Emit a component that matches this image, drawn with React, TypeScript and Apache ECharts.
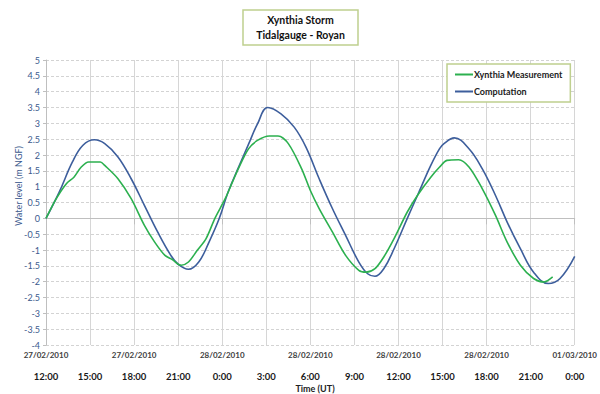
import React, { useEffect, useRef } from "react";
import * as echarts from "echarts";

// hours since 27/02/2010 12:00 UT
const dateLabels = ["27/02/2010", "27/02/2010", "28/02/2010", "28/02/2010", "28/02/2010", "28/02/2010", "01/03/2010"];
const timeLabels = ["12:00", "15:00", "18:00", "21:00", "0:00", "3:00", "6:00", "9:00", "12:00", "15:00", "18:00", "21:00", "0:00"];

const compHours = [0, 0.9, 1.8, 2.5, 3.3, 4.0, 4.9, 5.8, 6.7, 7.6, 8.5, 9.0, 9.7, 10.4, 11.1, 11.8, 12.4, 13.1, 13.8, 14.4, 15.1, 16.0, 16.9, 17.7, 18.6, 19.5, 20.4, 21.3, 21.9, 22.4, 23.0, 23.7, 24.6, 25.3, 26.2, 26.8, 27.1, 27.8, 28.8, 29.7, 30.6, 31.4, 32.3, 33.2, 34.2, 35.0, 36.0];
const compLevel = [0, 0.83, 1.78, 2.3, 2.48, 2.36, 1.94, 1.25, 0.41, -0.43, -1.17, -1.45, -1.61, -1.38, -0.75, 0, 0.83, 1.6, 2.35, 2.98, 3.5, 3.3, 2.88, 2.25, 1.25, 0.31, -0.54, -1.38, -1.75, -1.83, -1.59, -0.96, 0, 0.73, 1.67, 2.2, 2.36, 2.54, 2.2, 1.57, 0.73, -0.12, -0.96, -1.7, -2.06, -1.9, -1.2];

const measHours = [0, 0.7, 1.4, 1.9, 2.4, 2.9, 3.7, 4.0, 4.9, 5.8, 6.7, 7.4, 8.1, 8.6, 9.0, 9.2, 9.7, 10.3, 10.9, 11.5, 12.2, 12.7, 13.1, 13.8, 14.4, 15.2, 15.8, 16.5, 17.4, 18.0, 18.6, 19.5, 20.4, 21.3, 21.8, 22.4, 23.0, 23.7, 24.6, 25.3, 26.2, 26.8, 27.3, 28.1, 28.8, 29.7, 30.6, 31.4, 32.3, 33.2, 33.9, 34.5];
const measLevel = [0, 0.62, 1.1, 1.3, 1.62, 1.78, 1.78, 1.67, 1.25, 0.62, -0.22, -0.75, -1.17, -1.3, -1.45, -1.48, -1.38, -1.01, -0.64, 0, 0.62, 1.15, 1.57, 2.2, 2.46, 2.6, 2.6, 2.36, 1.57, 0.88, 0.31, -0.43, -1.17, -1.64, -1.7, -1.59, -1.22, -0.64, 0.2, 0.73, 1.3, 1.62, 1.83, 1.85, 1.62, 0.94, 0.1, -0.75, -1.48, -1.9, -2.01, -1.85];

const FONT = "Lato, 'Open Sans', sans-serif";
const GREEN = "#2cb04f";
const BLUE = "#3d5e9c";
const OLIVE = "#bfd08f";

export default function App() {
  const ref = useRef<HTMLDivElement>(null);
  useEffect(() => {
    if (!ref.current) return;
    const chart = echarts.init(ref.current, null, { renderer: "svg" });
    const comp = compHours.map((h, i) => [h, compLevel[i]]);
    const meas = measHours.map((h, i) => [h, measLevel[i]]);
    chart.setOption({
      animation: false,
      backgroundColor: "#ffffff",
      textStyle: { fontFamily: FONT },
      grid: { left: 46, right: 18, top: 60, bottom: 49 },
      legend: {
        orient: "vertical",
        left: 447,
        top: 64,
        backgroundColor: "#ffffff",
        borderColor: OLIVE,
        borderWidth: 1.5,
        padding: [6, 8, 6, 8],
        itemGap: 8,
        itemWidth: 18,
        itemHeight: 2,
        icon: "rect",
        data: ["Xynthia Measurement", "Computation"],
        textStyle: { fontSize: 9, fontWeight: "bold", color: "#222", fontFamily: FONT, padding: [0, 0, 0, -4] },
      },
      xAxis: [
        {
          type: "value",
          min: 0,
          max: 36,
          interval: 6,
          position: "bottom",
          axisLine: { show: true, lineStyle: { color: "#bfbfbf" } },
          axisTick: { show: true, length: 6, lineStyle: { color: "#bfbfbf" } },
          splitLine: { show: false },
          axisLabel: {
            margin: 6,
            fontSize: 8,
            fontWeight: "bold",
            color: "#404040",
            fontFamily: FONT,
            formatter: (v: number) => dateLabels[Math.round(v / 6)] ?? "",
          },
        },
        {
          type: "value",
          min: 0,
          max: 36,
          interval: 3,
          position: "bottom",
          axisLine: { show: false },
          axisTick: { show: false },
          splitLine: { show: true, lineStyle: { color: "#d6d6d6", width: 1 } },
          axisLabel: {
            margin: 26,
            fontSize: 9.5,
            fontWeight: "bold",
            color: "#1a1a1a",
            fontFamily: FONT,
            formatter: (v: number) => timeLabels[Math.round(v / 3)] ?? "",
          },
        },
      ],
      yAxis: {
        type: "value",
        min: -4,
        max: 5,
        interval: 0.5,
        axisLine: { show: true, lineStyle: { color: "#bfbfbf" } },
        axisTick: { show: true, length: 3, lineStyle: { color: "#bfbfbf" } },
        splitLine: { show: true, lineStyle: { color: "#d3d3d3", type: [3, 2] } },
        axisLabel: { fontSize: 9, color: "#3c5a8e", margin: 6, fontFamily: FONT },
      },
      graphic: [
        {
          type: "rect",
          shape: { x: 243, y: 10, width: 115, height: 35 },
          style: { fill: "#ffffff", stroke: OLIVE, lineWidth: 1.5 },
        },
        {
          type: "text",
          x: 300.5,
          y: 19.5,
          style: { text: "Xynthia Storm", fontSize: 10.5, fontWeight: "bold", fill: "#111", align: "center", verticalAlign: "middle", fontFamily: FONT },
        },
        {
          type: "text",
          x: 300.5,
          y: 35,
          style: { text: "Tidalgauge - Royan", fontSize: 10.5, fontWeight: "bold", fill: "#111", align: "center", verticalAlign: "middle", fontFamily: FONT },
        },
        {
          type: "text",
          x: 18,
          y: 186,
          rotation: Math.PI / 2,
          style: { text: "Water level (m NGF)", fontSize: 9, fill: "#3c5a8e", align: "center", verticalAlign: "middle", fontFamily: FONT },
        },
        {
          type: "text",
          x: 315,
          y: 388,
          style: { text: "Time (UT)", fontSize: 9, fontWeight: "bold", fill: "#222", align: "center", verticalAlign: "middle", fontFamily: FONT },
        },
      ],
      series: [
        {
          name: "Xynthia Measurement",
          type: "line",
          data: meas,
          showSymbol: false,
          symbol: "none",
          smooth: 0.3,
          lineStyle: { color: GREEN, width: 1.6 },
          itemStyle: { color: GREEN },
          z: 3,
        },
        {
          name: "Computation",
          type: "line",
          data: comp,
          showSymbol: false,
          symbol: "none",
          smooth: 0.4,
          lineStyle: { color: BLUE, width: 1.6 },
          itemStyle: { color: BLUE },
          z: 2,
        },
      ],
    });
    return () => chart.dispose();
  }, []);
  return <div ref={ref} style={{ width: 600, height: 394, position: "absolute", left: 0, top: 0 }} />;
}
